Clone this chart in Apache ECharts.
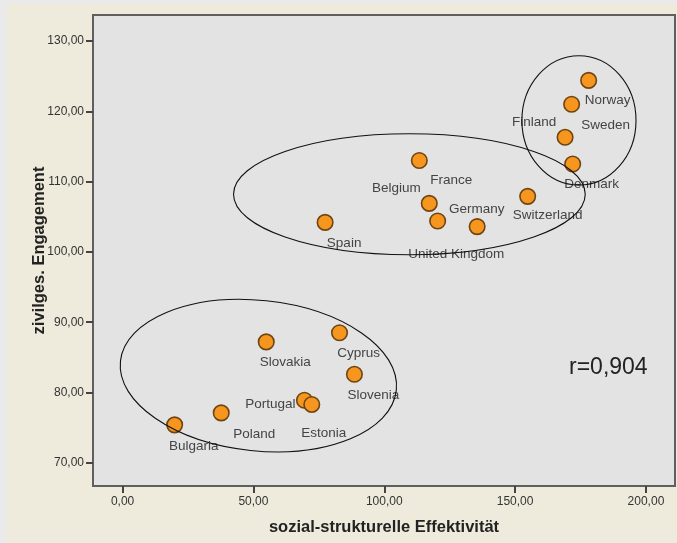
<!DOCTYPE html>
<html><head><meta charset="utf-8">
<script src="https://cdn.jsdelivr.net/npm/echarts@6/dist/echarts.min.js"></script>
<style>html,body{margin:0;padding:0;background:#EAEAEA}#c{width:677px;height:543px}</style>
</head><body><div id="c"></div>
<script>
// ---- data ----
const countries = ['Norway','Sweden','Finland','Denmark','Switzerland','France','Belgium','Germany','United Kingdom','Spain','Slovakia','Cyprus','Slovenia','Portugal','Estonia','Poland','Bulgaria'];
const socialEffectivity = [178.1,171.6,169.1,172.0,154.8,113.4,117.2,120.4,135.5,77.4,54.9,82.9,88.6,69.5,72.3,37.7,19.9];
const civicEngagement  = [124.4,121.0,116.3,112.5,107.9,113.0,106.9,104.4,103.6,104.2,87.2,88.5,82.6,78.9,78.3,77.1,75.4];
const xTicks = [0,50,100,150,200];
const yTicks = [70,80,90,100,110,120,130];
const xAxisTitle = 'sozial-strukturelle Effektivität';
const yAxisTitle = 'zivilges. Engagement';
const correlationText = 'r=0,904';
// cluster ellipses (data units): centers and semi-axes
const clusterCenters = [[174.4,118.7],[109.6,108.2],[51.9,82.4]];
const clusterRadii = [[21.8,9.2],[67.2,8.6],[53,10.7]];

// ---- style ----
const labelOffsets = [[19,20],[34,21],[-31,-15],[19,20],[20,19],[32,20],[-33,-15],[39,-12],[-21,28],[19,21],[19,20],[19,21],[19,21],[-34,4],[12,29],[33,21],[19,21]];
const clusterRotationDeg = [0,0,-6];
const FONT = '"Liberation Sans", Arial, sans-serif';

const fmt = v => v.toFixed(2).replace('.', ',');

const chart = echarts.init(document.getElementById('c'), null, {renderer:'canvas'});
const seriesData = countries.map((name, i) => ({
  name: name,
  value: [socialEffectivity[i], civicEngagement[i]],
  label: { offset: labelOffsets[i] }
}));

chart.setOption({
  animation: false,
  backgroundColor: '#EEEBDC',
  textStyle: { fontFamily: FONT },
  grid: { left: 93, right: 2, top: 15, bottom: 57, show: true, backgroundColor: '#E3E3E3', borderColor: '#5F5F5F', borderWidth: 2 },
  xAxis: {
    type: 'value', min: -11.3, max: 211.1,
    name: xAxisTitle, nameLocation: 'middle', nameGap: 33, nameMoveOverlap: false,
    nameTextStyle: { fontFamily: FONT, fontWeight: 'bold', fontSize: 16.5, color: '#222' },
    axisLine: { show: false, onZero: false },
    axisTick: { show: true, length: 7, customValues: xTicks, lineStyle: { color: '#444', width: 2 } },
    axisLabel: { customValues: xTicks, formatter: fmt, fontSize: 12, color: '#333', margin: 10, fontFamily: FONT },
    splitLine: { show: false }
  },
  yAxis: {
    type: 'value', min: 66.7, max: 133.7,
    name: yAxisTitle, nameLocation: 'middle', nameGap: 45, nameMoveOverlap: false,
    nameTextStyle: { fontFamily: FONT, fontWeight: 'bold', fontSize: 16.5, color: '#222' },
    axisLine: { show: false, onZero: false },
    axisTick: { show: true, length: 7, customValues: yTicks, lineStyle: { color: '#444', width: 2 } },
    axisLabel: { customValues: yTicks, formatter: fmt, fontSize: 12, color: '#333', margin: 9, fontFamily: FONT },
    splitLine: { show: false }
  },
  series: [{
    type: 'scatter',
    symbol: 'circle',
    symbolSize: 15.5,
    itemStyle: { color: '#F7961F', borderColor: '#6E4512', borderWidth: 1.6, opacity: 1 },
    label: { show: true, position: 'inside', formatter: '{b}', fontSize: 13.5, color: '#444', fontFamily: FONT },
    emphasis: { disabled: true },
    data: seriesData,
    z: 3
  }]
});

const graphics = [
  { type: 'rect', shape: { x: 0, y: 0, width: 677, height: 4 }, style: { fill: '#EAEAEA' }, silent: true, z: -1 },
  { type: 'rect', shape: { x: 0, y: 0, width: 7, height: 543 }, style: { fill: '#EAEAEA' }, silent: true, z: -1 }
];
clusterCenters.forEach((c, i) => {
  const p = chart.convertToPixel({ gridIndex: 0 }, c);
  const px = chart.convertToPixel({ gridIndex: 0 }, [c[0] + clusterRadii[i][0], c[1]]);
  const py = chart.convertToPixel({ gridIndex: 0 }, [c[0], c[1] + clusterRadii[i][1]]);
  graphics.push({
    type: 'ellipse', x: p[0], y: p[1], rotation: clusterRotationDeg[i] * Math.PI / 180,
    shape: { cx: 0, cy: 0, rx: Math.abs(px[0] - p[0]), ry: Math.abs(p[1] - py[1]) },
    style: { fill: null, stroke: '#111', lineWidth: 1.1 }, silent: true, z: 100
  });
});
graphics.push({
  type: 'text', x: 569, y: 368, silent: true, z: 100,
  style: { text: correlationText, fill: '#222', font: '23px ' + FONT, textVerticalAlign: 'middle', verticalAlign: 'middle' }
});
chart.setOption({ graphic: graphics });
</script></body></html>
